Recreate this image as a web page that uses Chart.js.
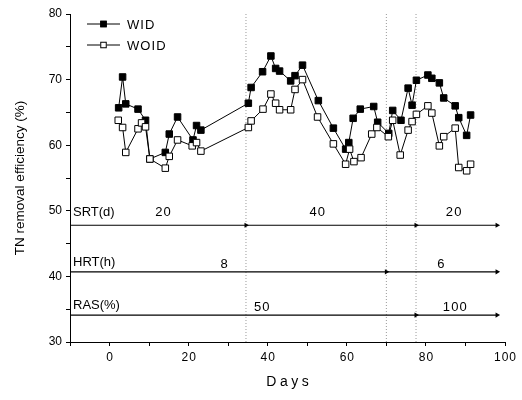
<!DOCTYPE html>
<html>
<head>
<meta charset="utf-8">
<script src="https://cdn.jsdelivr.net/npm/chart.js@4.4.1/dist/chart.umd.min.js"></script>
<style>
  html, body { margin: 0; padding: 0; background: #fff; }
  #wrap { width: 522px; height: 400px; }
</style>
</head>
<body>
<div id="wrap"><canvas id="tnChart"></canvas></div>
<script>
// TN removal efficiency (%) per day, with and without ID
const widDays = [2.3, 3.3, 4.1, 7.2, 9.1, 10.2, 14.1, 15.1, 17.2, 21.1, 22, 23.1,
  35.1, 35.8, 38.7, 40.8, 42, 43, 45.8, 46.9, 48.8, 52.8, 56.6, 59.7, 60.5, 61.6,
  63.4, 66.8, 67.8, 70.6, 71.6, 73.7, 75.5, 76.5, 77.6, 80.5, 81.5, 83.4, 84.5,
  87.4, 88.3, 90.3, 91.3];
const widValues = [65.7, 70.4, 66.3, 65.5, 63.8, 57.9, 58.9, 61.7, 64.3, 60.8, 63.0, 62.3,
  66.4, 68.8, 71.2, 73.6, 71.7, 71.3, 69.8, 70.6, 72.2, 66.8, 62.6, 59.4, 60.4, 64.1,
  65.5, 65.9, 63.5, 61.8, 65.3, 63.8, 68.7, 66.1, 69.9, 70.7, 70.2, 69.5, 67.2,
  66.0, 64.2, 61.5, 64.6];

const woidDays = [2.2, 3.3, 4.1, 7.2, 8.1, 9.1, 10.2, 14.1, 15.1, 17.2, 20.9, 22, 23.1,
  35.1, 35.8, 38.8, 40.8, 42, 43, 45.8, 46.9, 48.8, 52.6, 56.6, 59.7, 60.7, 61.8,
  63.6, 66.3, 67.6, 70.5, 71.6, 73.5, 75.5, 76.5, 77.6, 80.5, 81.5, 83.4, 84.5,
  87.4, 88.3, 90.3, 91.3];
const woidValues = [63.8, 62.7, 58.9, 62.5, 63.4, 62.8, 57.9, 56.5, 58.3, 60.8, 59.9, 60.4, 59.1,
  62.7, 63.7, 65.5, 67.8, 66.4, 65.4, 65.4, 68.5, 70.0, 64.3, 60.2, 57.1, 59.4, 57.5,
  58.1, 61.7, 62.7, 61.3, 63.8, 58.5, 62.3, 63.6, 64.7, 66.0, 64.9, 59.9, 61.3,
  62.6, 56.6, 56.1, 57.1];

// operating conditions: where each phase ends (days) and its set value
const phaseChanges = [34.5, 70, 77.5];
const srtEnds = [34.5, 77.5, 98];
const srtLabels = ['20', '40', '20'];
const hrtEnds = [70, 98];
const hrtLabels = ['8', '6'];
const rasEnds = [77.5, 98];
const rasLabels = ['50', '100'];

const xTicks = [0, 20, 40, 60, 80, 100];
const yTicks = [30, 40, 50, 60, 70, 80];

const X_MIN = -10, X_MAX = 100, Y_MIN = 30, Y_MAX = 80;
const FONT = '"Liberation Sans", Arial, sans-serif';

const toPoints = (xs, ys) => xs.map((x, i) => ({ x: x, y: ys[i] }));
const spaced = s => s.split('').join('\u200A');

// each condition row: arrow level on the y axis, name, label positions
const rows = [
  { name: 'SRT(d)', level: 47.8, nameY: 49.8, numY: 49.7, ends: srtEnds, labels: srtLabels, labelX: [13.5, 52.5, 87] },
  { name: 'HRT(h)', level: 40.7, nameY: 42.2, numY: 41.8, ends: hrtEnds, labels: hrtLabels, labelX: [29, 83.8] },
  { name: 'RAS(%)', level: 34.1, nameY: 35.6, numY: 35.3, ends: rasEnds, labels: rasLabels, labelX: [38.5, 87.3] }
];

const datasets = [
  {
    label: 'WID',
    data: toPoints(widDays, widValues),
    borderColor: '#000', borderWidth: 1,
    pointStyle: 'rect', pointRadius: 4.6,
    pointBackgroundColor: '#000', pointBorderColor: '#000', pointBorderWidth: 1,
    order: 2
  },
  {
    label: 'WOID',
    data: toPoints(woidDays, woidValues),
    borderColor: '#000', borderWidth: 1,
    pointStyle: 'rect', pointRadius: 4.6,
    pointBackgroundColor: '#fff', pointBorderColor: '#000', pointBorderWidth: 1,
    order: 1
  }
];

// phase change markers (dotted verticals)
phaseChanges.forEach(d => {
  datasets.push({
    label: '_phase',
    data: [{ x: d, y: Y_MIN }, { x: d, y: Y_MAX }],
    borderColor: '#999', borderWidth: 1, borderDash: [1, 2],
    pointRadius: 0, order: 5
  });
});

// condition arrows, one head at the end of every phase
rows.forEach(r => {
  const xs = [X_MIN].concat(r.ends);
  datasets.push({
    label: '_arrow',
    data: xs.map(x => ({ x: x, y: r.level })),
    borderColor: '#000', borderWidth: 1.2,
    pointStyle: 'triangle', pointRotation: 90,
    pointRadius: ctx => ctx.dataIndex === 0 ? 0 : 3,
    pointBackgroundColor: '#000', pointBorderColor: '#000', pointBorderWidth: 0,
    order: 4
  });
});

// text for the condition rows and the legend in the upper left
const annotations = {
  id: 'annotations',
  afterDatasetsDraw(chart) {
    const { ctx, scales: { x, y } } = chart;
    ctx.save();
    ctx.fillStyle = '#000';
    ctx.font = '13px ' + FONT;
    ctx.textBaseline = 'middle';
    rows.forEach(r => {
      ctx.textAlign = 'left';
      ctx.fillText(r.name, x.left + 3, y.getPixelForValue(r.nameY));
      ctx.textAlign = 'center';
      r.labels.forEach((t, i) => {
        ctx.fillText(spaced(t), x.getPixelForValue(r.labelX[i]), y.getPixelForValue(r.numY));
      });
    });

    // legend
    const lx = x.left + 17, rowH = 21;
    [0, 1].forEach(i => {
      const ds = chart.data.datasets[i];
      const ly = y.top + 10 + i * rowH;
      ctx.strokeStyle = '#000';
      ctx.lineWidth = 1;
      ctx.beginPath();
      ctx.moveTo(lx, ly);
      ctx.lineTo(lx + 33, ly);
      ctx.stroke();
      const s = 6.5;
      ctx.fillStyle = ds.pointBackgroundColor;
      ctx.fillRect(lx + 16.5 - s / 2, ly - s / 2, s, s);
      ctx.strokeRect(lx + 16.5 - s / 2 + 0.5, ly - s / 2 + 0.5, s - 1, s - 1);
      ctx.fillStyle = '#000';
      ctx.textAlign = 'left';
      ctx.font = '13px ' + FONT;
      ctx.fillText(spaced(ds.label), lx + 40, ly + 1);
    });
    ctx.restore();
  }
};

new Chart(document.getElementById('tnChart').getContext('2d'), {
  type: 'line',
  data: { datasets: datasets },
  options: {
    responsive: true,
    maintainAspectRatio: false,
    animation: false,
    layout: { padding: { left: 0, right: 17, top: 14, bottom: 0 } },
    plugins: {
      legend: { display: false },
      tooltip: { enabled: false }
    },
    scales: {
      x: {
        type: 'linear',
        min: X_MIN, max: X_MAX,
        afterFit: s => { s.height = 58; },
        grid: { drawOnChartArea: false, drawTicks: true, tickLength: 4, color: '#000' },
        border: { display: true, color: '#000', width: 1 },
        ticks: {
          stepSize: 10,
          color: '#000',
          font: { family: FONT, size: 12 },
          padding: 4,
          maxRotation: 0,
          callback: v => xTicks.includes(v) ? spaced(String(v)) : ''
        },
        title: {
          display: true, text: spaced(spaced('Days')), color: '#000',
          font: { family: FONT, size: 14 },
          padding: { top: 8, bottom: 9 }
        }
      },
      y: {
        min: Y_MIN, max: Y_MAX,
        afterFit: s => { s.width = 70; },
        grid: { drawOnChartArea: false, drawTicks: true, tickLength: 4, color: '#000' },
        border: { display: true, color: '#000', width: 1 },
        ticks: {
          stepSize: 5,
          color: '#000',
          font: { family: FONT, size: 12 },
          padding: 4,
          callback: v => yTicks.includes(v) ? String(v) : ''
        },
        title: {
          display: true, text: 'TN removal efficiency (%)', color: '#000',
          font: { family: FONT, size: 13.5 },
          padding: { top: 12, bottom: 0 }
        }
      }
    }
  },
  plugins: [annotations]
});
</script>
</body>
</html>
